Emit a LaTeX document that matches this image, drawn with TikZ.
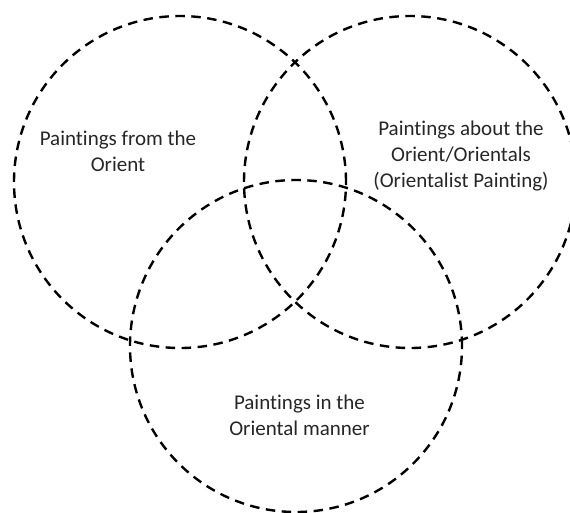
\documentclass[tikz,border=0pt]{standalone}
\usepackage{fontspec}
\setmainfont{Carlito}[Ligatures=CommonOff]
\begin{document}
\begin{tikzpicture}[x=1pt,y=-1pt,
  ring/.style={circle, draw=black, line width=2.4pt, dash pattern=on 9.5pt off 6.5pt, minimum size=332pt, inner sep=0pt},
  lbl/.style={align=center, font=\fontsize{21}{26}\selectfont, text=black!85, inner sep=0pt}]
\useasboundingbox (0,0) rectangle (570,512);
\node[ring] (L) at (180,182) {};
\node[ring] (R) at (410,182) {};
\node[ring] (B) at (296,346) {};
\node[lbl] (tl) at (118,151) {Paintings from the\\Orient};
\node[lbl] (tr) at (461,156) {Paintings about the\\Orient/Orientals\\(Orientalist Painting)};
\node[lbl] (tb) at (299.5,415) {Paintings in the\\Oriental manner};
\end{tikzpicture}
\end{document}
